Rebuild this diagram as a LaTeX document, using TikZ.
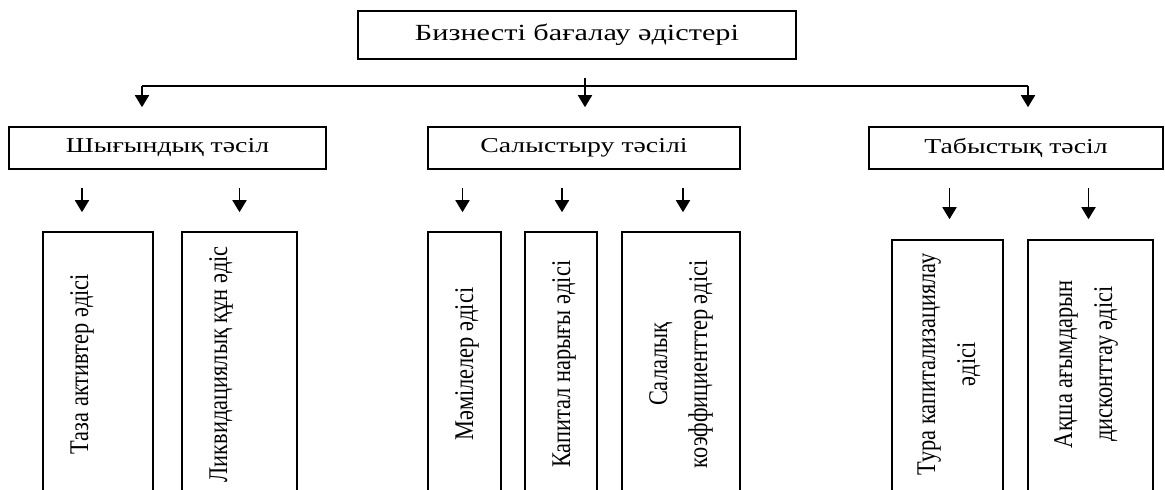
\documentclass[tikz,border=0pt]{standalone}
\usepackage{fontspec}
\setmainfont{Liberation Serif}
\newfontfamily\hfont[FakeStretch=1.31]{Liberation Serif}
\newfontfamily\vfont[FakeStretch=0.83]{Liberation Serif}
\usetikzlibrary{arrows.meta,calc}
\begin{document}
\begin{tikzpicture}[x=1pt,y=-1pt,
  box/.style={draw,line width=1.6pt,inner sep=0pt},
  lvltwo/.style={box,minimum height=42pt,font=\hfont\fontsize{21.2}{26}\selectfont},
  lvlthree/.style={box,minimum height=268pt},
  arr/.style={line width=1.8pt,-{Triangle[length=12pt,width=14pt]}},
  bus/.style={line width=1.6pt},
  vtext/.style={rotate=90,anchor=base,inner sep=0pt,align=center,font=\vfont\fontsize{27}{40}\selectfont}
]
\useasboundingbox (0,0) rectangle (1165,490);
\fill[white] (0,0) rectangle (1165,490);
\clip (0,0) rectangle (1165,490);

% top
\node[box,minimum width=438pt,minimum height=48pt,font=\hfont\fontsize{23.1}{28}\selectfont] (top) at (577,35) {Бизнесті бағалау әдістері};

% level 2
\node[lvltwo,minimum width=317pt] (cost) at (167.5,148) {Шығындық тәсіл};
\node[lvltwo,minimum width=312pt] (comp) at (584,148) {Салыстыру тәсілі};
\node[lvltwo,minimum width=294pt] (inc) at (1016,148) {Табыстық тәсіл};

% bus
\coordinate (busL) at ($(cost.north)+(-25.5,-40)$);
\coordinate (busR) at ($(inc.north)+(12,-40)$);
\draw[bus] (busL) -- (busR);
\draw[arr] (busL) -- ($(cost.north)+(-25.5,-19)$);
\draw[arr] (busR) -- ($(inc.north)+(12,-19)$);
\draw[arr] ($(top.south)+(8,18)$) -- ($(comp.north)+(1,-19)$);

% level 3 boxes
\node[lvlthree,minimum width=110pt] (a1) at (98,366) {};
\node[lvlthree,minimum width=115pt] (a2) at (239.5,366) {};
\node[lvlthree,minimum width=73pt] (b1) at (464.5,366) {};
\node[lvlthree,minimum width=72pt] (b2) at (561,366) {};
\node[lvlthree,minimum width=118pt] (b3) at (681,366) {};
\node[box,minimum height=260pt,minimum width=111pt] (c1) at (947.5,370) {};
\node[box,minimum height=260pt,minimum width=125pt] (c2) at (1090.5,370) {};

% level 3 arrows
\draw[arr] ($(cost.south -| a1.north)+(-16,18)$) -- ($(a1.north)+(-16,-19)$);
\draw[arr] ($(cost.south -| a2.north)+(0,18)$) -- ($(a2.north)+(0,-19)$);
\draw[arr] ($(comp.south -| b1.north)+(-2,18)$) -- ($(b1.north)+(-2,-19)$);
\draw[arr] ($(comp.south -| b2.north)+(1,18)$) -- ($(b2.north)+(1,-19)$);
\draw[arr] ($(comp.south -| b3.north)+(2,18)$) -- ($(b3.north)+(2,-19)$);
\draw[arr] ($(inc.south -| c1.north)+(2,18)$) -- ($(c1.north)+(2,-20)$);
\draw[arr] ($(inc.south -| c2.north)+(-2,18)$) -- ($(c2.north)+(-2,-20)$);

% level 3 texts
\node[vtext] (ta1) at ($(a1.north west)+(46,133)$) {Таза активтер әдісі};
\node[vtext] (ta2) at ($(a2.north west)+(46,133)$) {Ликвидациялық құн әдіс};
\node[vtext] (tb1) at ($(b1.north west)+(46,133)$) {Мәмілелер әдісі};
\node[vtext] (tb2) at ($(b2.north west)+(46,133)$) {Капитал нарығы әдісі};
\node[vtext] (tb3) at ($(b3.north west)+(86,133)$) {Салалық\\коэффициенттер әдісі};
\node[vtext] (tc1) at ($(c1.north west)+(84,125)$) {Тура капитализациялау\\әдісі};
\node[vtext] (tc2) at ($(c2.north west)+(85,125)$) {Ақша ағымдарын\\дисконттау әдісі};
\end{tikzpicture}
\end{document}
